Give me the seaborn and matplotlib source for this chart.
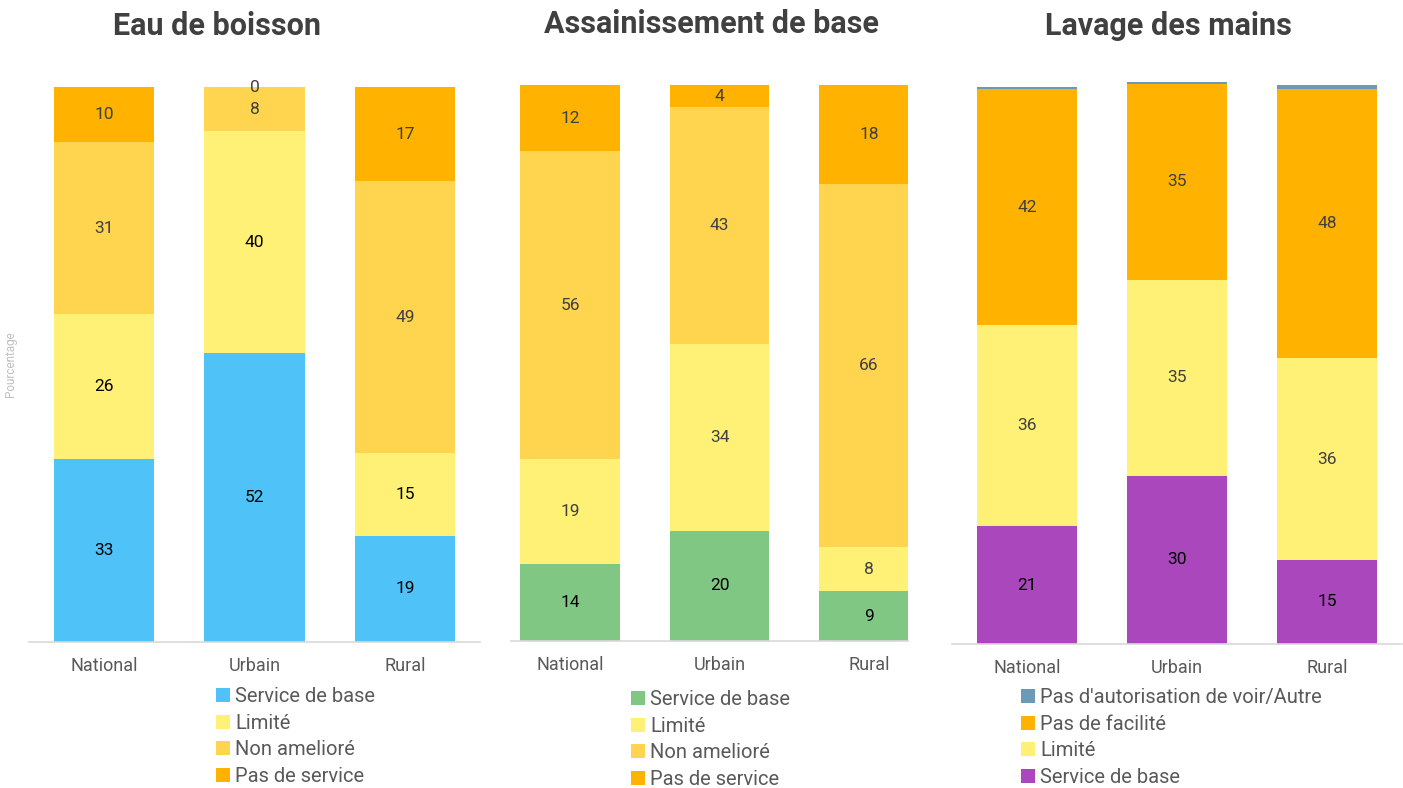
import pandas as pd
import numpy as np
import matplotlib
matplotlib.use("Agg")
import matplotlib.pyplot as plt
import seaborn as sns
from matplotlib.patches import Patch

sns.set_style("white")
plt.rcParams['font.family'] = ['Roboto', 'DejaVu Sans']

# Data
zones = ['National', 'Urbain', 'Rural']

eau_series = ['Service de base', 'Limité', 'Non amelioré', 'Pas de service']
eau_base = [33, 52, 19]
eau_limite = [26, 40, 15]
eau_non_ameliore = [31, 8, 49]
eau_pas_service = [10, 0, 17]

ass_series = ['Service de base', 'Limité', 'Non amelioré', 'Pas de service']
ass_base = [14, 20, 9]
ass_limite = [19, 34, 8]
ass_non_ameliore = [56, 43, 66]
ass_pas_service = [12, 4, 18]

lav_series = ['Service de base', 'Limité', 'Pas de facilité', "Pas d'autorisation de voir/Autre"]
lav_base = [21, 30, 15]
lav_limite = [36, 35, 36]
lav_pas_facilite = [42, 35, 48]
lav_autre = [0.5, 0.4, 0.8]

eau_colors = ['#4FC3F7', '#FFF176', '#FFD54F', '#FFB300']
ass_colors = ['#81C784', '#FFF176', '#FFD54F', '#FFB300']
lav_colors = ['#AB47BC', '#FFF176', '#FFB300', '#6A9AB5']

W, H = 1403, 788
fig = plt.figure(figsize=(W / 100, H / 100), dpi=100)


def px_axes(x0, x1, y_base, y_top):
    return fig.add_axes([x0 / W, 1 - y_base / H, (x1 - x0) / W, (y_base - y_top) / H])


def stacked(ax, layers, series, colors, ymax, label_last=True, dark_first=1):
    cum = np.cumsum(np.array(layers), axis=0)
    # draw tallest first so smaller cumulative bars sit on top
    for k in range(len(layers) - 1, -1, -1):
        df = pd.DataFrame({'zone': zones, 'val': cum[k]})
        sns.barplot(data=df, x='zone', y='val', order=zones, color=colors[k],
                    saturation=1, width=0.667, linewidth=0, ax=ax)
    n_lab = len(layers) if label_last else len(layers) - 1
    for k in range(n_lab):
        for i in range(len(zones)):
            v = layers[k][i]
            mid = cum[k][i] - v / 2
            col = 'black' if k < dark_first else '#404040'
            ax.text(i, mid, f"{v:g}", ha='center', va='center', fontsize=12.5, color=col)
    ax.set_ylim(0, ymax)
    ax.set_xlabel('')
    ax.set_ylabel('')
    ax.set_yticks([])
    for s in ['left', 'right', 'top']:
        ax.spines[s].set_visible(False)
    ax.spines['bottom'].set_color('#d9d9d9')
    ax.spines['bottom'].set_linewidth(1.2)
    ax.tick_params(axis='x', length=0, pad=11, labelsize=13, labelcolor='#595959')


def add_legend(ax, series, colors, x, y):
    handles = [Patch(facecolor=c, edgecolor='none') for c in colors]
    leg = ax.legend(handles, series, loc='upper left', bbox_to_anchor=(x / W, 1 - y / H),
                    bbox_transform=fig.transFigure, frameon=False, fontsize=14.5,
                    handlelength=0.7, handleheight=0.7, handletextpad=0.25,
                    labelspacing=0.38, borderaxespad=0, borderpad=0)
    for t in leg.get_texts():
        t.set_color('#595959')


# Panel 1
ax1 = px_axes(29, 480, 641.5, 87)
stacked(ax1, [eau_base, eau_limite, eau_non_ameliore, eau_pas_service], eau_series, eau_colors, 100, dark_first=2)
ax1.set_xlim(-0.5, 2.5)
ax1.set_ylabel('Pourcentage', fontsize=8.5, color='#c0c0c0', labelpad=9)
add_legend(ax1, eau_series, eau_colors, 216, 687)

# Panel 2
ax2 = px_axes(511, 908, 641, 85)
stacked(ax2, [ass_base, ass_limite, ass_non_ameliore, ass_pas_service], ass_series, ass_colors, 101)
ax2.set_xlim(-0.395, 2.261)
add_legend(ax2, ass_series, ass_colors, 631, 690)

# Panel 3
ax3 = px_axes(952, 1402, 644, 81)
stacked(ax3, [lav_base, lav_limite, lav_pas_facilite, lav_autre], lav_series, lav_colors, 100.5, label_last=False)
ax3.set_xlim(-0.5, 2.5)
add_legend(ax3, lav_series[::-1], lav_colors[::-1], 1021, 688)

title_kw = dict(ha='center', va='center', fontsize=22, fontweight='bold', color='#404040')
fig.text(217 / W, 1 - 26 / H, 'Eau de boisson', **title_kw)
fig.text(711 / W, 1 - 24 / H, 'Assainissement de base', **title_kw)
fig.text(1168 / W, 1 - 26 / H, 'Lavage des mains', **title_kw)

fig.savefig('out.png', dpi=100)
